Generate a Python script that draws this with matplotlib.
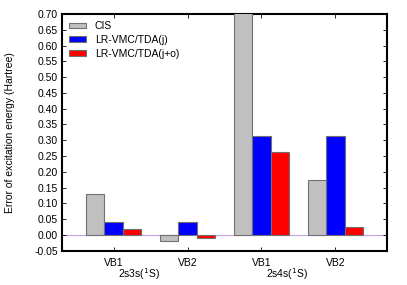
import numpy as np
import matplotlib
matplotlib.use("Agg")
import matplotlib.pyplot as plt
from matplotlib.patches import Patch

plt.rcParams['font.family'] = ['Liberation Sans', 'DejaVu Sans']
plt.rcParams['font.size'] = 7.5

# data
xlabels = ['VB1', 'VB2', 'VB1', 'VB2']
groups = ['2s3s($^1$S)', '2s4s($^1$S)']
cis = [0.13, -0.02, 0.80, 0.175]
vmc_j = [0.04, 0.04, 0.315, 0.315]
vmc_jo = [0.02, -0.01, 0.262, 0.025]
names = ['CIS', 'LR-VMC/TDA(j)', 'LR-VMC/TDA(j+o)']
colors = ['#c0c0c0', '#0000ff', '#ff0000']

fig = plt.figure(figsize=(4.07, 2.85), dpi=100)
ax = fig.add_axes([62/407, (285-250.7)/285, 325/407, (250.7-14)/285])

x = np.arange(1, 5)
w = 0.25
for off, vals, c in zip([-w, 0, w], [cis, vmc_j, vmc_jo], colors):
    ax.bar(x + off, vals, w, color=c, edgecolor='#707070', linewidth=0.8, zorder=3)

ax.axhline(0, color='#c8a0e0', lw=0.8, zorder=1)
ax.set_xlim(0.3, 4.7)
ax.set_ylim(-0.05, 0.70)
yt = np.arange(-0.05, 0.701, 0.05)
ax.set_yticks(yt)
ax.set_yticklabels(['%.2f' % v for v in yt])
ax.set_xticks(x)
ax.set_xticklabels(xlabels)
ax.tick_params(direction='in', top=True, right=True, length=3, width=0.6, pad=3)
ax.tick_params(axis='x', pad=5)
for s in ax.spines.values():
    s.set_linewidth(1.5)

ax.set_ylabel('Error of excitation energy (Hartree)', labelpad=14)
for gx, g in zip([1.35, 3.35], groups):
    ax.text(gx, -0.137, g, ha='center', va='baseline', clip_on=False)

handles = [Patch(facecolor=c, edgecolor='#707070', linewidth=0.8) for c in colors]
ax.legend(handles, names, loc='upper left', frameon=False, handlelength=1.65,
          handleheight=0.45, labelspacing=0.35, borderaxespad=0.4,
          borderpad=0.3, handletextpad=0.8)

fig.savefig('out.png', dpi=100)
